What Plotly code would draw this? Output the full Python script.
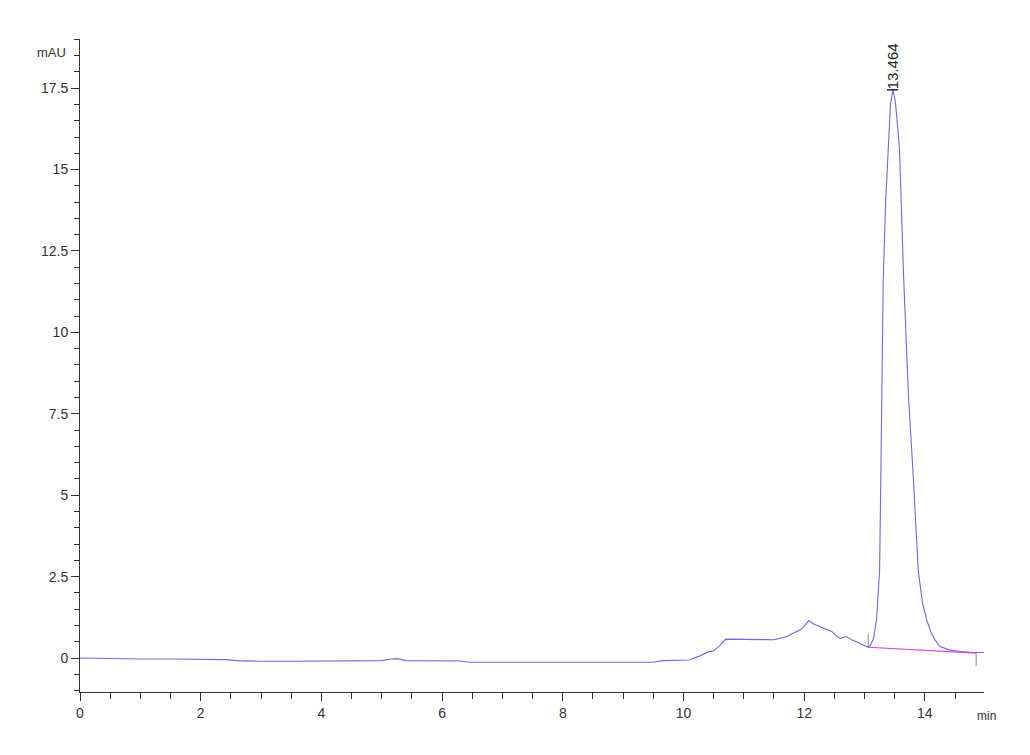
import plotly.graph_objects as go

# Retention time (min) and detector signal (mAU)
rt = [0.0, 0.5, 1.0, 1.5, 2.0, 2.4, 2.6, 3.0, 3.5, 4.0, 4.5, 5.0, 5.15, 5.25, 5.4,
      5.8, 6.3, 6.45, 7.0, 7.5, 8.0, 8.5, 9.0, 9.5, 9.65, 9.8, 10.0, 10.1, 10.25,
      10.4, 10.5, 10.6, 10.7, 10.9, 11.2, 11.5, 11.7, 11.85, 11.95, 12.0, 12.08,
      12.15, 12.26, 12.35, 12.46, 12.55, 12.6, 12.7, 12.8, 12.9, 13.0, 13.06, 13.1,
      13.15, 13.2, 13.25, 13.27, 13.31, 13.35, 13.39, 13.43, 13.47, 13.51, 13.55,
      13.58, 13.65, 13.73, 13.81, 13.89, 13.96, 14.03, 14.1, 14.17, 14.25, 14.4,
      14.6, 14.8, 14.98]
signal = [0.0, -0.02, -0.03, -0.03, -0.04, -0.05, -0.08, -0.1, -0.1, -0.1, -0.1,
          -0.08, -0.03, -0.02, -0.08, -0.09, -0.09, -0.13, -0.13, -0.12, -0.12,
          -0.13, -0.12, -0.13, -0.08, -0.08, -0.08, -0.06, 0.05, 0.18, 0.22, 0.38,
          0.58, 0.58, 0.57, 0.56, 0.65, 0.8, 0.88, 0.98, 1.15, 1.05, 0.96, 0.88,
          0.81, 0.65, 0.6, 0.66, 0.55, 0.47, 0.38, 0.33, 0.4, 0.6, 1.2, 2.7, 5.5,
          11.6, 14.0, 15.7, 17.0, 17.45, 17.1, 16.3, 15.6, 11.6, 8.0, 5.5, 2.7, 1.7,
          1.17, 0.8, 0.55, 0.35, 0.25, 0.2, 0.17, 0.17]

# Integration baseline of the main peak
baseline_rt = [13.06, 14.85]
baseline_val = [0.33, 0.15]

peak_rt = 13.464
peak_height = 17.45
peak_label = "13.464"

x_ticks = [0, 2, 4, 6, 8, 10, 12, 14]
y_ticks = [0, 2.5, 5, 7.5, 10, 12.5, 15, 17.5]
y_tick_text = ["0", "2.5", "5", "7.5", "10", "12.5", "15", "17.5"]

font_family = "Liberation Sans, Arial, sans-serif"
axis_color = "#333333"

fig = go.Figure()
fig.add_trace(go.Scatter(x=rt, y=signal, mode="lines",
                         line=dict(color="#6a6ae2", width=1.1),
                         hoverinfo="skip", showlegend=False))
fig.add_trace(go.Scatter(x=baseline_rt, y=baseline_val, mode="lines",
                         line=dict(color="#e040e0", width=1.1),
                         hoverinfo="skip", showlegend=False))
# small integration markers at baseline start (above) and end (below)
fig.add_trace(go.Scatter(x=[baseline_rt[0], baseline_rt[0]],
                         y=[baseline_val[0], baseline_val[0] + 0.4], mode="lines",
                         line=dict(color="#888888", width=1),
                         hoverinfo="skip", showlegend=False))
fig.add_trace(go.Scatter(x=[baseline_rt[1], baseline_rt[1]],
                         y=[baseline_val[1] - 0.4, baseline_val[1]], mode="lines",
                         line=dict(color="#888888", width=1),
                         hoverinfo="skip", showlegend=False))
# apex marker
fig.add_trace(go.Scatter(x=[peak_rt], y=[peak_height], mode="markers",
                         marker=dict(symbol="line-ew", size=8,
                                     line=dict(color="#222222", width=1.5)),
                         hoverinfo="skip", showlegend=False))

fig.add_annotation(x=peak_rt, y=peak_height, text=peak_label, textangle=-90,
                   showarrow=False, xanchor="center", yanchor="bottom", yshift=-2,
                   font=dict(family=font_family, size=15, color="#222222"))
fig.add_annotation(xref="paper", yref="paper", x=-0.013, y=0.98,
                   text="mAU", showarrow=False, xanchor="right", yanchor="middle",
                   font=dict(family=font_family, size=13, color=axis_color))
fig.add_annotation(xref="paper", yref="paper", x=0.99, y=0, yshift=-24,
                   text="min", showarrow=False, xanchor="left", yanchor="middle",
                   font=dict(family=font_family, size=12, color=axis_color))

fig.update_layout(
    width=1030, height=755,
    margin=dict(l=72, r=54, t=31, b=71),
    paper_bgcolor="white", plot_bgcolor="white",
    font=dict(family=font_family, size=14, color=axis_color),
    xaxis=dict(range=[0, 14.98], tickvals=x_ticks, showgrid=False, zeroline=False,
               showline=True, linecolor=axis_color, linewidth=1,
               ticks="outside", ticklen=8, tickcolor=axis_color,
               minor=dict(dtick=0.5, ticks="outside", ticklen=6, tickcolor=axis_color),
               tickfont=dict(size=14)),
    yaxis=dict(range=[-1.044, 19.01], tickvals=y_ticks, ticktext=y_tick_text,
               showgrid=False, zeroline=False,
               showline=True, linecolor=axis_color, linewidth=1,
               ticks="outside", ticklen=8, tickcolor=axis_color,
               minor=dict(dtick=0.5, tick0=0, ticks="outside", ticklen=5, tickcolor=axis_color),
               tickfont=dict(size=14)),
)

fig.write_html("out.html")
